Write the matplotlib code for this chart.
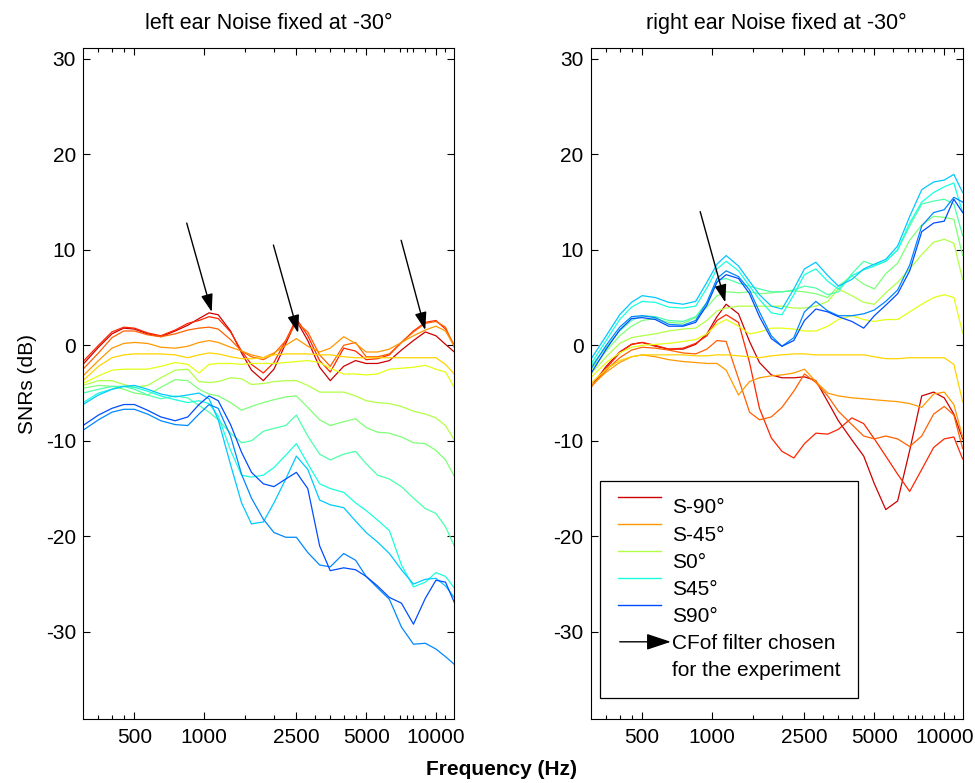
import numpy as np
import matplotlib.pyplot as plt
from matplotlib.lines import Line2D
from matplotlib.patches import FancyArrowPatch
from matplotlib.legend_handler import HandlerBase
from matplotlib.ticker import NullFormatter

plt.rcParams['font.family'] = ['Liberation Sans', 'DejaVu Sans']
plt.rcParams['axes.unicode_minus'] = False

# frequency grid (Hz) shared by all curves
freqs = [300, 350, 400, 450, 500, 570, 650, 750, 850, 950, 1050, 1150, 1300, 1450, 1600,
         1800, 2000, 2250, 2500, 2800, 3150, 3500, 4000, 4500, 5000, 5600, 6300, 7100,
         8000, 9000, 10000, 11000, 12000]

angles = [-90, -75, -60, -45, -30, -15, 0, 15, 30, 45, 60, 75, 90]

# left ear, SNR (dB) per signal angle
left_m90 = [-2.0, -0.2, 1.2, 1.8, 1.7, 1.2, 0.9, 1.5, 2.1, 2.8, 3.4, 3.2, 1.5, -0.8, -2.6,
            -3.7, -2.5, 0.2, 2.6, 0.5, -2.3, -3.7, -2.2, -1.6, -1.9, -1.9, -1.6, -0.5,
            0.5, 1.4, 1.0, 0.1, -0.7]
left_m75 = [-1.7, 0.0, 1.4, 1.9, 1.8, 1.3, 1.0, 1.6, 2.3, 2.6, 3.0, 2.8, 1.4, -0.6, -2.0,
            -2.9, -1.8, 0.5, 2.8, 1.0, -1.6, -2.8, -0.3, -0.6, -1.5, -1.4, -1.0, 0.3,
            1.5, 2.4, 2.6, 1.7, 0.0]
left_m60 = [-2.5, -0.8, 0.8, 1.5, 1.5, 1.1, 0.9, 1.2, 1.6, 1.8, 1.9, 1.7, 0.6, -0.6, -1.2,
            -1.5, -0.9, 0.5, 2.4, 1.4, -1.0, -2.2, 0.0, 0.3, -1.2, -1.2, -0.9, 0.3,
            1.4, 2.3, 2.5, 1.9, -0.2]
left_m45 = [-3.2, -1.6, -0.3, 0.2, 0.3, 0.2, -0.2, -0.3, -0.1, 0.3, 0.5, 0.3, -0.2, -0.6,
            -1.0, -1.3, -0.8, 0.0, 0.7, -0.1, -0.7, -0.3, 0.9, 0.2, -0.7, -0.7, -0.4, 0.3,
            1.0, 1.6, 2.0, 1.5, -0.1]
left_m30 = [-3.7, -2.2, -1.3, -1.0, -0.9, -0.9, -0.9, -1.0, -1.3, -1.0, -0.8, -0.9, -1.2,
            -1.4, -1.4, -1.3, -1.0, -0.9, -0.9, -0.9, -1.0, -1.0, -1.2, -1.3, -1.3, -1.3,
            -1.3, -1.3, -1.3, -1.3, -1.3, -2.0, -3.0]
left_m15 = [-4.0, -3.2, -2.6, -2.5, -2.5, -2.5, -2.2, -1.8, -2.0, -2.9, -2.0, -1.9, -1.9,
            -2.0, -1.9, -1.9, -1.9, -1.8, -1.7, -1.6, -1.8, -2.4, -3.0, -3.0, -3.1, -3.0,
            -2.5, -2.4, -2.3, -2.1, -2.5, -2.8, -4.4]
left_0 = [-4.2, -3.7, -3.7, -4.1, -4.4, -4.2, -3.4, -2.6, -2.5, -3.8, -3.9, -3.8, -3.4,
          -3.5, -4.1, -4.0, -3.8, -3.7, -3.7, -4.2, -4.9, -4.9, -4.9, -5.3, -5.8, -6.0,
          -6.1, -6.4, -6.9, -7.2, -7.6, -8.4, -9.9]
left_p15 = [-4.5, -4.2, -4.3, -4.6, -5.0, -5.2, -4.4, -3.6, -3.7, -4.6, -5.1, -5.3, -6.0,
            -6.8, -6.4, -6.0, -5.7, -5.4, -5.3, -6.5, -7.8, -8.4, -8.0, -7.7, -8.6, -9.1,
            -9.2, -9.6, -10.2, -10.3, -11.0, -12.0, -13.7]
left_p30 = [-5.0, -4.6, -4.3, -4.3, -4.6, -5.2, -5.6, -5.3, -5.5, -6.3, -7.0, -7.8, -9.2,
            -10.2, -10.0, -9.0, -8.7, -8.4, -7.3, -9.5, -11.4, -12.0, -11.4, -11.1, -12.4,
            -13.6, -14.0, -14.8, -16.0, -17.1, -17.6, -19.0, -21.0]
left_p45 = [-6.0, -5.0, -4.6, -4.3, -4.4, -4.8, -5.3, -5.7, -6.0, -5.8, -6.1, -7.4, -11.0,
            -13.6, -13.8, -13.6, -12.8, -11.5, -10.3, -12.4, -14.5, -15.0, -15.4, -16.5,
            -17.3, -18.3, -19.4, -23.0, -25.3, -24.8, -23.8, -24.2, -25.4]
left_p60 = [-6.2, -5.2, -4.6, -4.3, -4.2, -4.6, -5.1, -5.4, -5.2, -5.0, -5.6, -7.8, -12.5,
            -16.5, -18.7, -18.5, -16.5, -14.0, -11.6, -13.0, -16.2, -16.7, -17.0, -18.4,
            -19.6, -20.6, -21.8, -23.5, -25.0, -24.5, -24.4, -25.2, -26.4]
left_p75 = [-8.9, -7.8, -7.0, -6.7, -6.7, -7.2, -7.9, -8.3, -8.4, -7.2, -6.2, -6.6, -9.5,
            -13.5, -16.0, -18.2, -19.6, -20.1, -20.1, -21.7, -23.0, -23.2, -21.8, -22.5,
            -24.2, -25.4, -26.6, -29.5, -31.3, -31.2, -31.8, -32.6, -33.4]
left_p90 = [-8.4, -7.3, -6.6, -6.2, -6.2, -6.8, -7.5, -7.9, -7.5, -6.2, -5.3, -5.8, -8.3,
            -11.2, -13.3, -14.5, -14.8, -14.0, -13.3, -15.0, -21.0, -23.6, -23.3, -23.5,
            -24.2, -25.2, -26.4, -27.0, -29.2, -26.5, -24.6, -24.8, -26.9]

# right ear, SNR (dB) per signal angle
right_m90 = [-4.4, -2.2, -0.7, 0.1, 0.3, -0.1, -0.4, -0.4, 0.1, 1.2, 3.0, 4.3, 3.3, 0.4,
             -1.8, -3.1, -3.4, -3.4, -3.3, -3.7, -5.9, -7.9, -9.9, -11.6, -14.5, -17.2,
             -16.3, -11.0, -5.3, -4.9, -5.5, -7.2, -9.8]
right_m75 = [-4.4, -2.4, -0.8, 0.1, 0.3, 0.0, -0.4, -0.3, 0.2, 1.0, 2.6, 3.2, 2.4, -1.8,
             -6.6, -9.7, -11.1, -11.8, -10.3, -9.2, -9.3, -8.8, -7.6, -8.2, -9.8, -11.6,
             -13.5, -15.3, -13.0, -10.7, -9.8, -9.6, -11.9]
right_m60 = [-4.4, -2.6, -1.3, -0.5, -0.2, -0.3, -0.5, -0.8, -0.9, -0.4, 0.5, 0.4, -3.5,
             -7.0, -7.8, -7.5, -6.5, -4.8, -3.0, -3.9, -5.3, -6.9, -8.3, -9.5, -9.8, -9.5,
             -9.8, -10.6, -9.5, -7.2, -6.4, -7.3, -10.8]
right_m45 = [-4.3, -2.8, -1.8, -1.2, -1.0, -1.2, -1.5, -1.7, -1.8, -1.9, -1.9, -2.6, -5.2,
             -3.8, -3.4, -3.2, -3.1, -2.9, -2.5, -3.8, -5.0, -5.3, -5.5, -5.6, -5.7, -5.8,
             -5.9, -6.1, -6.5, -5.1, -4.9, -6.2, -9.6]
right_m30 = [-4.0, -2.5, -1.6, -1.2, -1.0, -1.0, -1.0, -1.0, -1.1, -1.1, -1.0, -1.0, -1.1,
             -1.2, -1.3, -1.1, -1.0, -0.9, -0.9, -1.0, -1.0, -1.0, -1.0, -1.0, -1.2, -1.4,
             -1.4, -1.3, -1.3, -1.3, -1.3, -2.0, -5.9]
right_m15 = [-3.4, -1.8, -0.8, -0.2, 0.0, 0.1, 0.2, 0.4, 0.6, 1.2, 2.2, 2.7, 2.0, 1.2, 1.4,
             1.8, 1.8, 1.7, 1.5, 1.5, 2.0, 2.7, 3.1, 2.7, 2.5, 2.7, 2.7, 3.5, 4.3, 5.0,
             5.3, 5.0, 1.3]
right_0 = [-3.0, -1.2, 0.2, 0.8, 1.0, 1.2, 1.5, 1.7, 1.8, 2.6, 3.6, 3.9, 4.1, 4.1, 4.1,
           4.1, 4.1, 3.9, 3.9, 4.1, 4.6, 5.9, 5.2, 4.5, 4.3, 5.5, 6.6, 8.0, 9.5, 10.8,
           11.1, 10.7, 6.9]
right_p15 = [-2.6, -0.6, 1.0, 2.0, 2.6, 2.8, 2.4, 2.3, 2.9, 4.0, 5.2, 5.6, 5.5, 5.6, 5.4,
             5.5, 5.6, 5.7, 5.6, 5.4, 5.0, 6.2, 7.3, 6.4, 5.9, 7.5, 8.6, 11.0, 12.6, 13.5,
             13.4, 13.2, 9.4]
right_p30 = [-2.2, -0.2, 1.5, 2.6, 3.1, 3.0, 2.6, 2.5, 3.0, 4.5, 6.8, 7.0, 6.5, 6.2, 5.9,
             5.6, 5.6, 5.8, 6.2, 6.0, 5.3, 5.6, 7.5, 8.8, 8.4, 8.8, 10.0, 12.5, 14.8, 15.1,
             15.3, 14.8, 11.5]
right_p45 = [-2.0, 0.5, 2.7, 4.0, 4.6, 4.5, 4.0, 3.9, 4.1, 6.0, 8.0, 8.8, 7.8, 6.2, 4.8,
             3.4, 3.2, 5.3, 7.4, 8.0, 6.7, 5.9, 7.3, 7.9, 8.3, 8.8, 10.0, 12.8, 15.0, 16.0,
             16.6, 17.0, 13.9]
right_p60 = [-1.5, 1.0, 3.2, 4.5, 5.2, 5.0, 4.5, 4.3, 4.6, 6.6, 8.5, 9.4, 8.3, 6.7, 5.3,
             4.1, 3.8, 5.9, 8.0, 8.7, 7.3, 6.2, 6.9, 8.0, 8.5, 9.0, 10.4, 13.5, 16.3, 17.1,
             17.3, 17.9, 16.0]
right_p75 = [-2.5, 0.0, 1.9, 3.0, 3.1, 2.9, 2.2, 2.1, 2.6, 4.5, 7.0, 7.8, 7.2, 5.8, 3.5,
             1.0, -0.1, 0.8, 3.5, 4.6, 3.6, 3.1, 3.1, 3.3, 3.7, 4.6, 5.8, 8.4, 12.5, 13.9,
             14.2, 15.5, 15.0]
right_p90 = [-3.0, -0.4, 1.6, 2.8, 2.9, 2.7, 2.0, 2.0, 2.4, 4.2, 6.6, 7.4, 7.0, 5.4, 3.0,
             0.7, -0.1, 0.5, 2.6, 3.8, 3.5, 3.0, 2.5, 1.8, 3.1, 4.2, 5.4, 7.8, 11.9, 12.8,
             13.0, 15.3, 13.9]

left_curves = [left_m90, left_m75, left_m60, left_m45, left_m30, left_m15, left_0,
               left_p15, left_p30, left_p45, left_p60, left_p75, left_p90]
right_curves = [right_m90, right_m75, right_m60, right_m45, right_m30, right_m15, right_0,
                right_p15, right_p30, right_p45, right_p60, right_p75, right_p90]

# arrows marking the CF of the chosen filters: (tail, tip) in (Hz, dB)
left_arrows = [((841, 12.8), (1078, 3.5)),
               ((1990, 10.5), (2544, 1.3)),
               ((7080, 11.0), (8995, 1.6))]
right_arrows = [((889, 14.0), (1140, 4.5))]

xticks = [500, 1000, 2500, 5000, 10000]
xminor = [350, 400, 450, 1500, 2000, 3000, 3500, 4000, 4500, 6000, 7000, 7500, 8000,
          9000, 11000]
yticks = [-30, -20, -10, 0, 10, 20, 30]

colors = plt.get_cmap('jet')(np.linspace(0.93, 0.2, len(angles)))
FS = 15


class RaisedLineHandler(HandlerBase):
    # legend line drawn above the text centre
    def create_artists(self, legend, orig_handle, xdescent, ydescent, width, height,
                       fontsize, trans):
        y = height / 2 - ydescent + 0.45 * fontsize
        line = Line2D([-xdescent, -xdescent + width], [y, y],
                      color=orig_handle.get_color(), lw=orig_handle.get_linewidth())
        line.set_transform(trans)
        return [line]


class ArrowHandler(HandlerBase):
    def create_artists(self, legend, orig_handle, xdescent, ydescent, width, height,
                       fontsize, trans):
        y = height / 2 - ydescent
        arrow = FancyArrowPatch((-xdescent + 0.1 * fontsize, y),
                                (-xdescent + width + 0.45 * fontsize, y),
                                arrowstyle='-|>,head_length=0.6,head_width=0.2',
                                mutation_scale=25, color='k', lw=1,
                                shrinkA=0, shrinkB=0)
        arrow.set_transform(trans)
        return [arrow]


def style_axes(ax, title):
    ax.set_xscale('log')
    ax.set_xlim(300, 12000)
    ax.set_ylim(-39.1, 31.1)
    ax.set_xticks(xticks, labels=[str(t) for t in xticks])
    ax.set_xticks(xminor, minor=True)
    ax.xaxis.set_minor_formatter(NullFormatter())
    ax.set_yticks(yticks)
    ax.tick_params(which='both', direction='in', top=True, right=True,
                   labelsize=FS, width=0.8)
    ax.tick_params(axis='x', which='both', pad=7)
    ax.tick_params(axis='y', which='both', pad=5)
    ax.tick_params(which='major', length=5)
    ax.tick_params(which='minor', length=2.7)
    for s in ax.spines.values():
        s.set_linewidth(0.8)
    ax.set_title(title, fontsize=15.5, pad=14)


def draw_arrows(ax, arrows):
    for tail, tip in arrows:
        ax.annotate('', xy=tip, xytext=tail,
                    arrowprops=dict(arrowstyle='-|>,head_length=0.6,head_width=0.2',
                                    mutation_scale=18, color='k', lw=1,
                                    shrinkA=0, shrinkB=0))


fig = plt.figure(figsize=(9.75, 7.83), dpi=100)
ax_l = fig.add_axes([0.0851, 0.0821, 0.3808, 0.8562])
ax_r = fig.add_axes([0.6058, 0.0821, 0.3815, 0.8562])

for curve, c in zip(left_curves, colors):
    ax_l.plot(freqs, curve, color=c, lw=0.9)
for curve, c in zip(right_curves, colors):
    ax_r.plot(freqs, curve, color=c, lw=0.9)

style_axes(ax_l, 'left ear Noise fixed at -30°')
style_axes(ax_r, 'right ear Noise fixed at -30°')
draw_arrows(ax_l, left_arrows)
draw_arrows(ax_r, right_arrows)

ax_l.set_ylabel('SNRs (dB)', fontsize=FS, labelpad=6)
fig.text(0.514, 0.017, 'Frequency (Hz)', fontsize=FS, fontweight='bold',
         ha='center', va='center')

# legend: five of the angles plus the arrow explanation
legend_idx = [0, 3, 6, 9, 12]
handles = [Line2D([], [], color=colors[i], lw=1) for i in legend_idx]
labels = ['S%d°' % angles[i] for i in legend_idx]
arrow_handle = FancyArrowPatch((0, 0), (1, 0))
handles += [arrow_handle, Line2D([], [], color='none')]
labels += ['CFof filter chosen', 'for the experiment']

leg = ax_r.legend(handles, labels, loc='lower left', bbox_to_anchor=(0.025, 0.031),
                  borderaxespad=0, fontsize=FS, frameon=True, fancybox=False,
                  framealpha=1, edgecolor='k', handlelength=2.1, handletextpad=0.5,
                  labelspacing=0.39, borderpad=0.85,
                  handler_map={Line2D: RaisedLineHandler(), FancyArrowPatch: ArrowHandler()})
leg.get_frame().set_linewidth(0.9)

fig.savefig('out.png', dpi=100)
